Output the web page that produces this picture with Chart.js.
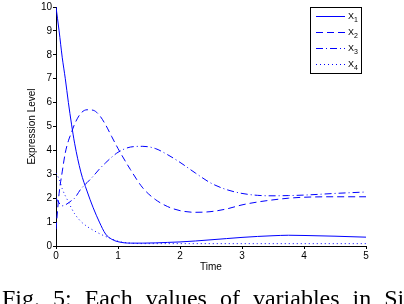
<!DOCTYPE html>
<html>
<head>
<meta charset="utf-8">
<script src="https://cdn.jsdelivr.net/npm/chart.js@4.4.0/dist/chart.umd.min.js"></script>
<style>
  html, body { margin: 0; padding: 0; background: #fff; }
  body { width: 404px; height: 304px; overflow: hidden; position: relative; }
  #chart { position: absolute; left: 0; top: 0; }
  #caption {
    position: absolute; left: 2px; top: 286px; white-space: nowrap; word-spacing: 7px;
    font-family: "Liberation Serif", "DejaVu Serif", serif; font-size: 24px; line-height: 24px; color: #000;
  }
</style>
</head>
<body>
<canvas id="chart" width="404" height="304"></canvas>
<div id="caption">Fig. 5: Each values of variables in Simulation</div>
<script>
// Sample times (x axis) shared by all series
const times = [0, 0.05, 0.1, 0.15, 0.2, 0.25, 0.3, 0.4, 0.5, 0.6, 0.7, 0.8, 0.9, 1.0,
  1.2, 1.4, 1.6, 1.8, 2.0, 2.25, 2.5, 2.75, 3.0, 3.25, 3.5, 3.75, 4.0, 4.5, 5.0];

// Expression levels
const x1 = [10, 9.0, 7.9, 7.0, 6.0, 5.1, 4.3, 3.1, 2.3, 1.6, 1.0, 0.5, 0.28, 0.18,
  0.12, 0.12, 0.13, 0.15, 0.17, 0.21, 0.26, 0.31, 0.36, 0.4, 0.43, 0.45, 0.44, 0.41, 0.37];
const x2 = [0.7, 2.2, 3.1, 3.9, 4.4, 4.75, 5.1, 5.55, 5.7, 5.68, 5.47, 5.07, 4.57, 4.08,
  3.2, 2.43, 1.95, 1.65, 1.48, 1.41, 1.44, 1.55, 1.72, 1.84, 1.93, 2.0, 2.04, 2.06, 2.06];
const x3 = [2.0, 1.8, 1.68, 1.72, 1.8, 1.9, 2.0, 2.38, 2.65, 2.92, 3.22, 3.48, 3.72, 3.92,
  4.14, 4.17, 4.08, 3.82, 3.5, 3.05, 2.63, 2.36, 2.2, 2.12, 2.1, 2.11, 2.13, 2.2, 2.26];
const x4 = [3.05, 2.8, 2.4, 2.1, 1.85, 1.58, 1.35, 1.03, 0.82, 0.66, 0.52, 0.4, 0.3, 0.2,
  0.12, 0.1, 0.1, 0.1, 0.1, 0.1, 0.1, 0.1, 0.1, 0.1, 0.1, 0.1, 0.1, 0.1, 0.1];

const seriesNames = ["X1", "X2", "X3", "X4"];
const seriesValues = [x1, x2, x3, x4];
const dashStyles = [[], [7, 4], [7, 3, 1, 3], [1, 3]];

const xTicks = [0, 1, 2, 3, 4, 5];
const yTicks = [0, 1, 2, 3, 4, 5, 6, 7, 8, 9, 10];

const BLUE = "#0000ff";
const FONT = "'Liberation Sans', Arial, sans-serif";

// Legend drawn inside the plot area, MATLAB style, with subscripts
const boxLegend = {
  id: "boxLegend",
  afterDraw(chart) {
    const ctx = chart.ctx;
    const left = 310.5, top = 7.5, w = 51, h = 66;
    ctx.save();
    ctx.fillStyle = "#fff";
    ctx.fillRect(left, top, w, h);
    ctx.strokeStyle = "#000";
    ctx.lineWidth = 1;
    ctx.setLineDash([]);
    ctx.strokeRect(left, top, w, h);
    chart.data.datasets.forEach((ds, i) => {
      const y = 16.5 + i * 16;
      ctx.strokeStyle = ds.borderColor;
      ctx.setLineDash(ds.borderDash);
      ctx.beginPath();
      ctx.moveTo(316, y);
      ctx.lineTo(345, y);
      ctx.stroke();
      ctx.fillStyle = "#000";
      ctx.textBaseline = "alphabetic";
      ctx.font = "9px " + FONT;
      ctx.fillText(ds.label.charAt(0), 348, y + 2.5);
      ctx.font = "7px " + FONT;
      ctx.fillText(ds.label.slice(1), 354, y + 5.5);
    });
    ctx.restore();
  }
};

const ctx = document.getElementById("chart").getContext("2d");

new Chart(ctx, {
  type: "line",
  data: {
    datasets: seriesNames.map((name, i) => ({
      label: name,
      data: times.map((t, k) => ({ x: t, y: seriesValues[i][k] })),
      borderColor: BLUE,
      borderWidth: 1,
      borderDash: dashStyles[i],
      pointRadius: 0,
      fill: false,
      cubicInterpolationMode: "monotone"
    }))
  },
  options: {
    responsive: false,
    animation: false,
    layout: { padding: { top: 3, right: 38, left: 0, bottom: 0 }, autoPadding: false },
    plugins: { legend: { display: false }, tooltip: { enabled: false } },
    scales: {
      x: {
        type: "linear", min: 0, max: 5,
        afterBuildTicks: s => { s.ticks = xTicks.map(v => ({ value: v })); },
        afterFit: s => { s.height = 58; },
        ticks: { color: "#000", font: { family: FONT, size: 10 }, padding: 1, maxRotation: 0 },
        grid: { drawOnChartArea: false, tickLength: 3, color: "#000" },
        border: { color: "#000", width: 1 },
        title: { display: true, text: "Time", color: "#000", font: { family: FONT, size: 10 }, padding: { top: 0, bottom: 31 } }
      },
      y: {
        min: 0, max: 10,
        afterBuildTicks: s => { s.ticks = yTicks.map(v => ({ value: v })); },
        afterFit: s => { s.width = 56; },
        ticks: { color: "#000", font: { family: FONT, size: 10 }, padding: 1 },
        grid: { drawOnChartArea: false, tickLength: 3, color: "#000" },
        border: { color: "#000", width: 1 },
        title: { display: true, text: "Expression Level", color: "#000", font: { family: FONT, size: 10 }, padding: { top: 26, bottom: 0 } }
      }
    }
  },
  plugins: [boxLegend]
});
</script>
</body>
</html>
